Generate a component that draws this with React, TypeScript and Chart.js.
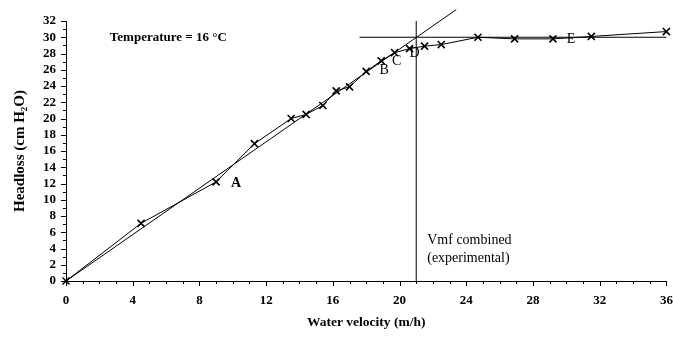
import React, { useEffect, useRef } from 'react';
import { Chart, registerables } from 'chart.js';

Chart.register(...registerables);

// Measured series: water velocity (m/h) vs headloss (cm H2O)
const velocity = [0, 4.5, 9.0, 11.3, 13.5, 14.4, 15.4, 16.2, 17.0, 18.0, 18.9, 19.7, 20.6, 21.5, 22.5, 24.7, 26.9, 29.2, 31.5, 36.0];
const headloss = [0, 7.1, 12.2, 16.9, 20.0, 20.5, 21.6, 23.4, 23.9, 25.8, 27.1, 28.1, 28.6, 28.9, 29.1, 30.0, 29.8, 29.8, 30.1, 30.7];

// Linear fixed-bed fit through origin
const fitX = [0, 23.4];
const fitY = [0, 33.4];
// Fluidised plateau
const plateauX = [17.6, 36];
const plateauY = [30, 30];
// Vmf line
const vmfX = [21, 21];
const vmfY = [0, 32];

// Point letters
const letterText = ['A', 'B', 'C', 'D', 'E'];
const letterIndex = [2, 10, 11, 12, 17];

const X_MIN = 0, X_MAX = 36, Y_MIN = 0, Y_MAX = 32;

const SERIF = '"Liberation Serif", "Times New Roman", serif';

const toPts = (xs: number[], ys: number[]) => xs.map((v, i) => ({ x: v, y: ys[i] }));

const letterOffsets: Record<string, [number, number]> = {
  A: [20, 2],
  B: [3, 10],
  C: [2, 9],
  D: [5, 5],
  E: [18, 0],
};

const annotPlugin = {
  id: 'annot',
  afterDatasetsDraw(chart: any) {
    const { ctx, scales } = chart;
    const x = scales.x, y = scales.y;
    ctx.save();
    ctx.strokeStyle = '#000';
    ctx.fillStyle = '#000';
    ctx.lineWidth = 1;
    // x ticks
    x.ticks.forEach((t: any) => {
      const px = Math.round(x.getPixelForValue(t.value)) + 0.5;
      const len = t.value % 4 === 0 ? 5 : 3;
      ctx.beginPath();
      ctx.moveTo(px, y.bottom);
      ctx.lineTo(px, y.bottom + len);
      ctx.stroke();
    });
    // y ticks
    y.ticks.forEach((t: any) => {
      const py = Math.round(y.getPixelForValue(t.value)) + 0.5;
      const len = t.value % 2 === 0 ? 5 : 3;
      ctx.beginPath();
      ctx.moveTo(x.left, py);
      ctx.lineTo(x.left - len, py);
      ctx.stroke();
    });
    // letters
    ctx.textBaseline = 'middle';
    ctx.textAlign = 'center';
    letterText.forEach((l, i) => {
      const idx = letterIndex[i];
      const px = x.getPixelForValue(velocity[idx]);
      const py = y.getPixelForValue(headloss[idx]);
      const [dx, dy] = letterOffsets[l];
      ctx.font = (l === 'A' ? 'bold ' : '') + '14px ' + SERIF;
      ctx.fillText(l, px + dx, py + dy);
    });
    // texts
    ctx.textAlign = 'left';
    ctx.font = 'bold 13px ' + SERIF;
    ctx.fillText('Temperature = 16 \u00B0C', x.getPixelForValue(2.63), y.getPixelForValue(30));
    ctx.font = '14px ' + SERIF;
    const vx = x.getPixelForValue(vmfX[0]) + 11;
    ctx.fillText('Vmf combined', vx, y.getPixelForValue(4.95));
    ctx.fillText('(experimental)', vx, y.getPixelForValue(2.75));
    ctx.restore();
  },
};

export default function App() {
  const ref = useRef<HTMLCanvasElement | null>(null);
  useEffect(() => {
    if (!ref.current) return;
    const chart = new Chart(ref.current, {
      type: 'scatter',
      data: {
        datasets: [
          {
            label: 'measured',
            data: toPts(velocity, headloss),
            showLine: true,
            borderColor: '#000',
            backgroundColor: '#000',
            borderWidth: 1,
            pointStyle: 'crossRot',
            pointRadius: 5,
            pointBorderWidth: 1.6,
            pointBorderColor: '#000',
            clip: false,
          },
          {
            label: 'fit',
            data: toPts(fitX, fitY),
            showLine: true,
            borderColor: '#000',
            borderWidth: 1,
            pointRadius: 0,
            clip: false,
          },
          {
            label: 'plateau',
            data: toPts(plateauX, plateauY),
            showLine: true,
            borderColor: '#000',
            borderWidth: 1,
            pointRadius: 0,
            clip: false,
          },
          {
            label: 'vmf',
            data: toPts(vmfX, vmfY),
            showLine: true,
            borderColor: '#000',
            borderWidth: 1,
            pointRadius: 0,
            clip: false,
          },
        ],
      },
      options: {
        responsive: false,
        animation: false,
        layout: { padding: { top: 21, right: 4, left: 0, bottom: 0 } },
        plugins: {
          legend: { display: false },
          tooltip: { enabled: false },
          title: { display: false },
        },
        scales: {
          x: {
            type: 'linear',
            min: X_MIN,
            max: X_MAX,
            border: { display: true, color: '#000', width: 1 },
            grid: { display: false, drawTicks: false, tickLength: 0 },
            ticks: {
              stepSize: 1,
              autoSkip: false,
              maxRotation: 0,
              padding: 12,
              color: '#000',
              font: { family: SERIF, size: 13, weight: 'bold' },
              callback: (v: any) => (Number(v) % 4 === 0 ? String(v) : ''),
            },
            title: {
              display: true,
              text: 'Water velocity (m/h)',
              color: '#000',
              font: { family: SERIF, size: 13.5, weight: 'bold' },
              padding: { top: 0, bottom: 9 },
            },
            afterFit: (s: any) => {
              s.height = 59;
              s.paddingLeft = 0;
              s.paddingRight = 0;
            },
          },
          y: {
            type: 'linear',
            min: Y_MIN,
            max: Y_MAX,
            border: { display: true, color: '#000', width: 1 },
            grid: { display: false, drawTicks: false, tickLength: 0 },
            ticks: {
              stepSize: 1,
              autoSkip: false,
              padding: 10,
              color: '#000',
              font: { family: SERIF, size: 13, weight: 'bold' },
              callback: (v: any) => (Number(v) % 2 === 0 ? String(v) : ''),
            },
            title: {
              display: true,
              text: 'Headloss (cm H\u2082O)',
              color: '#000',
              font: { family: SERIF, size: 15, weight: 'bold' },
              padding: { top: 11, bottom: 0 },
            },
            afterFit: (s: any) => {
              s.width = 66;
              s.paddingTop = 0;
              s.paddingBottom = 0;
            },
          },
        },
      },
      plugins: [annotPlugin],
    });
    return () => chart.destroy();
  }, []);
  return (
    <div style={{ position: 'fixed', left: 0, top: 0, width: 673, height: 340, background: '#fff' }}>
      <canvas ref={ref} width={673} height={340} style={{ display: 'block' }} />
    </div>
  );
}
